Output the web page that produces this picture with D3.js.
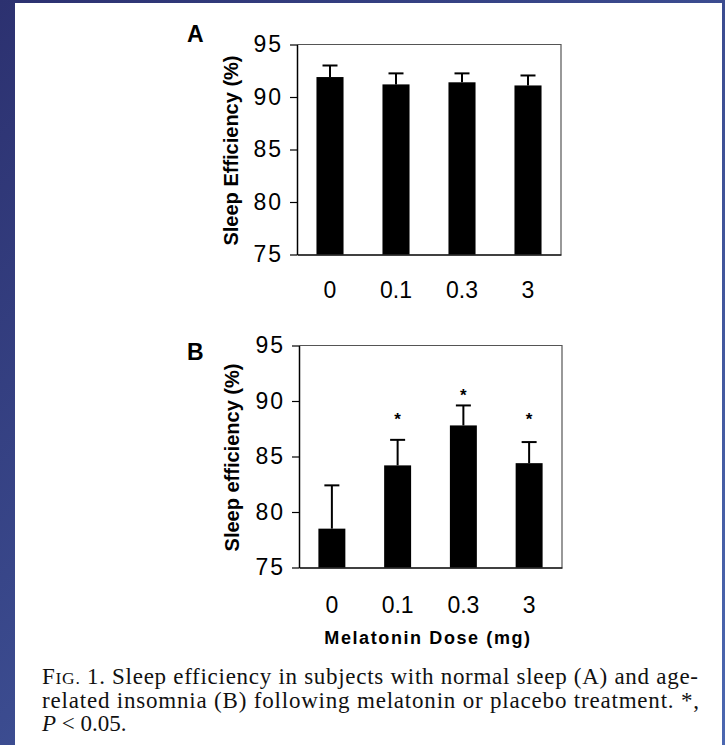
<!DOCTYPE html>
<html>
<head>
<meta charset="UTF-8">
<title>Melatonin sleep efficiency</title>
<style>
  body { margin: 0; background: #fff; }
  svg text { font-family: "Liberation Sans", Arial, sans-serif; }
  .caption text { font-family: "Liberation Serif", "Times New Roman", serif; }
</style>
</head>
<body>
<svg width="725" height="745"></svg>
<script src="https://d3js.org/d3.v7.min.js"></script>
<script>
// data
var doses = ["0", "0.1", "0.3", "3"];
var yTicks = [75, 80, 85, 90, 95];

var meanA = [91.9, 91.2, 91.4, 91.1];
var semA  = [1.1, 1.05, 0.85, 0.95];

var meanB = [78.5, 84.2, 87.8, 84.4];
var semB  = [3.9, 2.3, 1.8, 1.9];
var starB = [null, 88.7, 90.9, 88.7];   // where the * marks sit (P < 0.05)

var svg = d3.select("svg");

// blue frame round the white page
var grad = svg.append("defs").append("linearGradient")
    .attr("id", "frame").attr("x1", 0).attr("y1", 0).attr("x2", 1).attr("y2", 1);
grad.append("stop").attr("offset", 0).attr("stop-color", "#2c3170");
grad.append("stop").attr("offset", 1).attr("stop-color", "#4b67b0");
svg.append("rect").attr("width", 725).attr("height", 745).attr("fill", "url(#frame)");
svg.append("rect").attr("x", 15).attr("y", 3).attr("width", 707).attr("height", 742).attr("fill", "#fff");

function panel(opt) {
    var x = d3.scaleBand().domain(doses).range([opt.left, opt.right])
        .paddingInner(0.59).paddingOuter(0.295);
    var y = d3.scaleLinear().domain([75, 95]).range([opt.bottom, opt.top]);
    var g = svg.append("g");

    // frame top / right
    g.append("path")
        .attr("d", "M" + opt.left + "," + opt.top + "H" + opt.right + "V" + opt.bottom)
        .attr("fill", "none").attr("stroke", "#555").attr("stroke-width", 1.2);

    var rows = doses.map(function (d, i) {
        return { dose: d, mean: opt.mean[i], sem: opt.sem[i], star: opt.star ? opt.star[i] : null };
    });

    g.selectAll("rect.bar").data(rows).enter().append("rect")
        .attr("class", "bar")
        .attr("x", function (d) { return x(d.dose); })
        .attr("width", x.bandwidth())
        .attr("y", function (d) { return y(d.mean); })
        .attr("height", function (d) { return y(75) - y(d.mean); })
        .attr("fill", "#000");

    // upper error bars
    var cx = function (d) { return x(d.dose) + x.bandwidth() / 2; };
    g.selectAll("line.err").data(rows).enter().append("line")
        .attr("x1", cx).attr("x2", cx)
        .attr("y1", function (d) { return y(d.mean); })
        .attr("y2", function (d) { return y(d.mean + d.sem); })
        .attr("stroke", "#000").attr("stroke-width", 2);
    g.selectAll("line.cap").data(rows).enter().append("line")
        .attr("x1", function (d) { return cx(d) - 7.5; })
        .attr("x2", function (d) { return cx(d) + 7.5; })
        .attr("y1", function (d) { return y(d.mean + d.sem); })
        .attr("y2", function (d) { return y(d.mean + d.sem); })
        .attr("stroke", "#000").attr("stroke-width", 2);

    g.selectAll("text.star").data(rows.filter(function (d) { return d.star != null; }))
        .enter().append("text")
        .attr("x", cx)
        .attr("y", function (d) { return y(d.star) + 10; })
        .attr("text-anchor", "middle")
        .attr("font-size", 17).attr("font-weight", "bold")
        .text("*");

    // y axis
    var ay = g.append("g").attr("transform", "translate(" + opt.left + ",0)")
        .call(d3.axisLeft(y).tickValues(yTicks).tickSize(7).tickSizeOuter(0).tickPadding(7));
    ay.select(".domain").attr("stroke", "#000").attr("stroke-width", 1.5);
    ay.selectAll(".tick line").attr("stroke", "#000").attr("stroke-width", 1.2);
    ay.selectAll(".tick text").attr("font-size", 23).attr("fill", "#000")
        .attr("letter-spacing", 2)
        .attr("font-family", "Liberation Sans, Arial, sans-serif");

    // x axis: bottom line, labels only
    var ax = g.append("g").attr("transform", "translate(0," + opt.bottom + ")")
        .call(d3.axisBottom(x).tickSize(0).tickPadding(opt.xPad));
    ax.select(".domain").attr("stroke", "#000").attr("stroke-width", 1.5);
    ax.selectAll(".tick text").attr("font-size", 23).attr("fill", "#000")
        .attr("font-family", "Liberation Sans, Arial, sans-serif");

    // y title
    g.append("text")
        .attr("transform", "translate(" + opt.titleX + "," + ((opt.top + opt.bottom) / 2 + 1) + ") rotate(-90)")
        .attr("text-anchor", "middle")
        .attr("font-size", 20).attr("font-weight", "bold")
        .text(opt.title);

    // panel letter
    g.append("text").attr("x", 187).attr("y", opt.letterY)
        .attr("font-size", 23).attr("font-weight", "bold")
        .text(opt.letter);
}

panel({ left: 297, right: 561, top: 44.5, bottom: 254.5, mean: meanA, sem: semA,
        title: "Sleep Efficiency (%)", titleX: 238, letter: "A", letterY: 42, xPad: 27 });
panel({ left: 299, right: 562, top: 345.5, bottom: 567.5, mean: meanB, sem: semB, star: starB,
        title: "Sleep efficiency (%)", titleX: 239, letter: "B", letterY: 360, xPad: 29 });

svg.append("text")
    .attr("x", 428).attr("y", 644)
    .attr("text-anchor", "middle")
    .attr("font-size", 18).attr("font-weight", "bold").attr("letter-spacing", 1.6)
    .text("Melatonin Dose (mg)");

// caption
var cap = svg.append("g").attr("class", "caption").attr("fill", "#111");
var l1 = cap.append("text").attr("x", 42).attr("y", 684).attr("font-size", 23)
    .attr("textLength", 656).attr("lengthAdjust", "spacing");
l1.append("tspan").text("F");
l1.append("tspan").attr("font-size", 17.5).text("IG.");
l1.append("tspan").text(" 1. Sleep efficiency in subjects with normal sleep (A) and age-");
cap.append("text").attr("x", 42).attr("y", 707.5).attr("font-size", 23)
    .attr("textLength", 657).attr("lengthAdjust", "spacing")
    .text("related insomnia (B) following melatonin or placebo treatment. *,");
var l3 = cap.append("text").attr("x", 42).attr("y", 731).attr("font-size", 23);
l3.append("tspan").attr("font-style", "italic").text("P");
l3.append("tspan").text(" < 0.05.");
</script>
</body>
</html>
